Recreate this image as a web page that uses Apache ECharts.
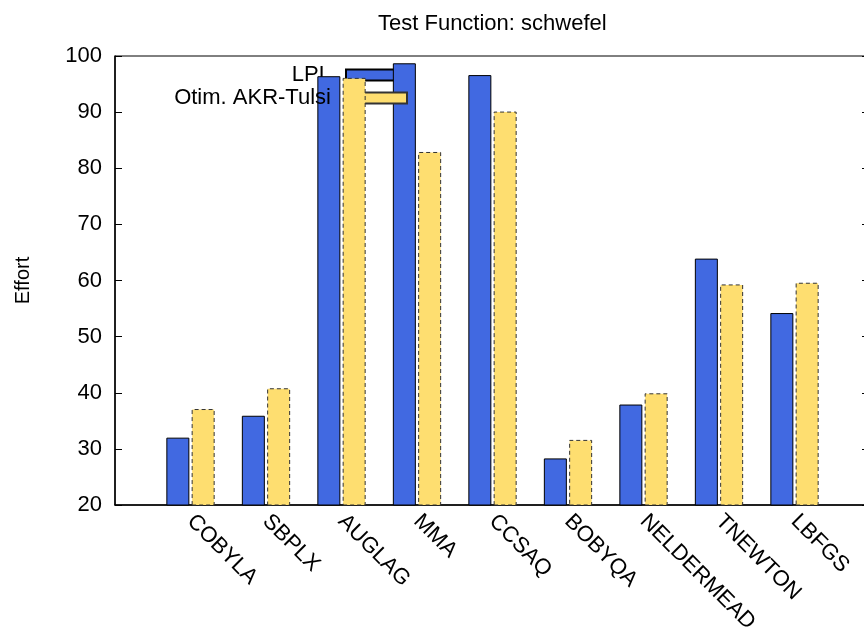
<!DOCTYPE html>
<html>
<head>
<meta charset="utf-8">
<script src="https://cdn.jsdelivr.net/npm/echarts@6/dist/echarts.min.js"></script>
<style>
  html, body { margin: 0; padding: 0; background: #fff; }
  #chart { width: 864px; height: 631px; }
</style>
</head>
<body>
<div id="chart"></div>
<script>
const methods = ["COBYLA", "SBPLX", "AUGLAG", "MMA", "CCSAQ", "BOBYQA", "NELDERMEAD", "TNEWTON", "LBFGS"];
const lplValues = [32.0, 35.9, 96.4, 98.7, 96.6, 28.3, 37.9, 63.9, 54.2];
const tulsiValues = [37.1, 40.8, 96.1, 82.9, 90.1, 31.6, 39.9, 59.3, 59.6];
const yTicks = { min: 20, max: 100, step: 10 };

// gnuplot-style x range -1..9: pad one empty slot on each side
const cats = [""].concat(methods, [""]);
const pad = arr => ["-"].concat(arr, ["-"]);

const font = "Liberation Sans";
const chart = echarts.init(document.getElementById("chart"));

// gnuplot draws each key entry just before its own bars, so use one legend per series
function keyEntry(name, top, z) {
  return {
    orient: "vertical",
    align: "right",
    right: 456,
    top: top,
    z: z,
    padding: 0,
    itemWidth: 61,
    itemHeight: 11,
    icon: "rect",
    textStyle: { fontFamily: font, fontSize: 22, color: "#000", lineHeight: 21, padding: [0, 10, 0, 0] },
    data: [name]
  };
}

chart.setOption({
  animation: false,
  textStyle: { fontFamily: font },
  title: {
    text: "Test Function: schwefel",
    left: 373,
    top: 8,
    textStyle: { fontFamily: font, fontSize: 22, fontWeight: "normal", color: "#000" }
  },
  legend: [keyEntry("LPL", 64, 1), keyEntry("Otim. AKR-Tulsi", 87, 3)],
  grid: {
    left: 115, top: 56, width: 755, height: 449,
    outerBoundsMode: "none",
    show: true, borderColor: "#000", borderWidth: 1
  },
  xAxis: {
    type: "category",
    data: cats,
    boundaryGap: false,
    axisLine: { lineStyle: { color: "#000", width: 1.5 } },
    axisTick: { show: false },
    splitLine: { show: false },
    axisLabel: { rotate: -45, margin: 13, fontSize: 22, color: "#000", fontFamily: font, interval: 0 }
  },
  yAxis: [{
    type: "value",
    min: yTicks.min, max: yTicks.max, interval: yTicks.step,
    name: "Effort",
    nameLocation: "middle",
    nameRotate: 90,
    nameGap: 82,
    nameTextStyle: { fontFamily: font, fontSize: 20, color: "#000" },
    axisLine: { show: true, lineStyle: { color: "#000", width: 1.5 } },
    axisTick: { show: true, inside: true, length: 7, lineStyle: { color: "#000" } },
    splitLine: { show: false },
    axisLabel: { margin: 13, fontSize: 22, color: "#000", fontFamily: font }
  }, {
    type: "value",
    position: "right",
    min: yTicks.min, max: yTicks.max, interval: yTicks.step,
    axisLine: { show: true, lineStyle: { color: "#000" } },
    axisTick: { show: true, inside: true, length: 8, lineStyle: { color: "#000" } },
    splitLine: { show: false },
    axisLabel: { show: false }
  }],
  series: [{
    name: "LPL",
    type: "bar",
    z: 2,
    data: pad(lplValues),
    barWidth: 23,
    barGap: "10%",
    itemStyle: { color: "#4169e1", borderColor: "#000", borderWidth: 1 }
  }, {
    name: "Otim. AKR-Tulsi",
    type: "bar",
    z: 4,
    data: pad(tulsiValues),
    barWidth: 23,
    itemStyle: { color: "#fede70", borderColor: "#333", borderWidth: 1, borderType: [4, 3] }
  }]
});
</script>
</body>
</html>
